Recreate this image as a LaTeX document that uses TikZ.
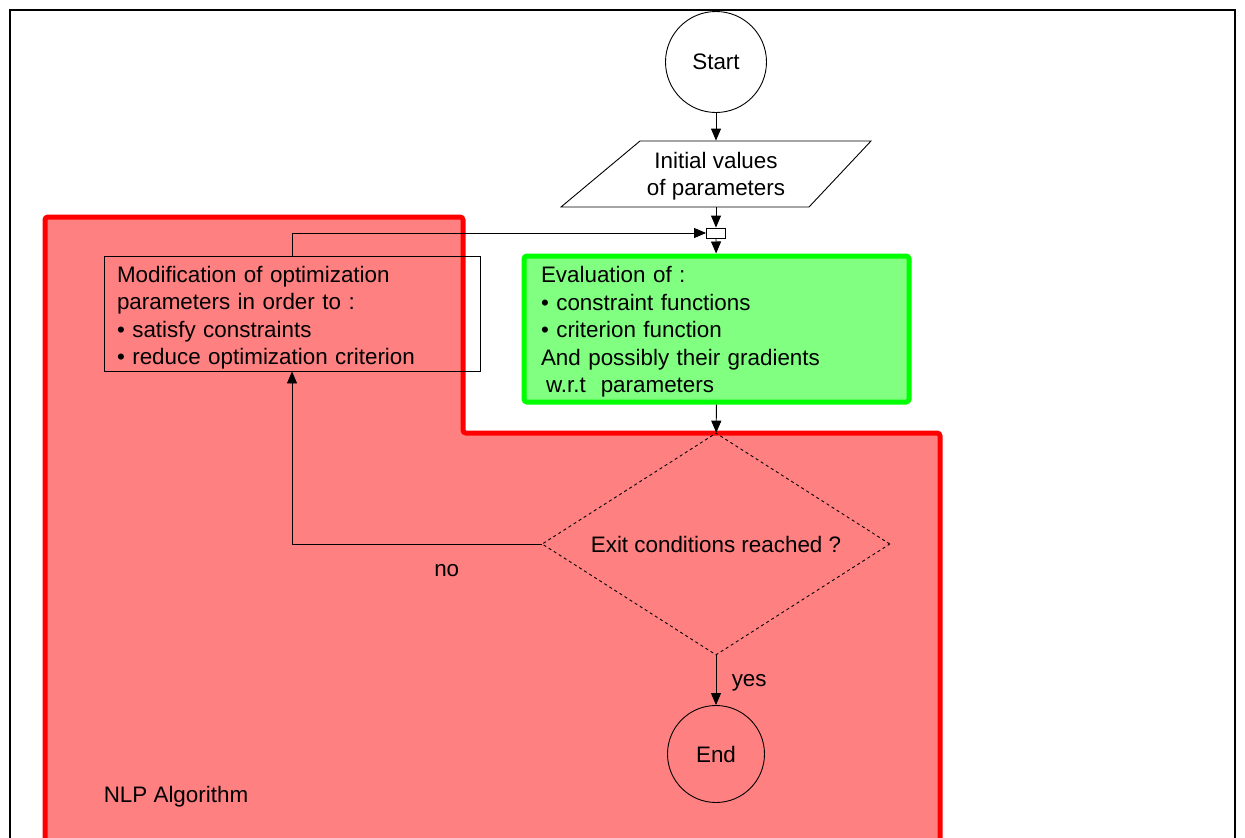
\documentclass[tikz,border=0pt]{standalone}
\usepackage{fontspec}
\setmainfont{Liberation Sans}
\usetikzlibrary{arrows.meta,shapes.geometric}

\begin{document}
\begin{tikzpicture}[x=1pt,y=-1pt,line width=0.9pt,font=\fontsize{22.4}{27.5}\selectfont,
  arr/.style={-{Triangle[length=12pt,width=10pt]}},
  term/.style={draw,circle,inner sep=0pt}]
\useasboundingbox (0,0) rectangle (1245,838);
\clip (0,0) rectangle (1245,838);

% Frame
\draw[line width=2pt] (10,10) rectangle (1235,870);

% NLP region
\draw[line width=5pt,red,fill=red!50,rounded corners=3pt] (45,217) -- (463,217) -- (463,433) -- (940,433) -- (940,880) -- (45,880) -- cycle;
\node (nlp) at (176,797) {NLP Algorithm};

% Terminals
\node[term,minimum size=101pt] (start) at (716,62) {Start};
\node[term,minimum size=97pt] (end) at (716,754) {End};

% Input
\node[minimum width=150pt,minimum height=66pt,inner ysep=0pt,align=center] (init) at (716,174)
  {\rule{0pt}{21pt}Initial values\\of parameters};
\draw (640,141) -- (871,141) -- (809,207) -- (561,207) -- cycle;

% Junction
\node[draw,fill=white,minimum width=19pt,minimum height=10pt,inner sep=0pt] (junc) at (716,233) {};

% Evaluation
\node[draw=green,line width=5pt,fill=green!50,rounded corners=3pt,minimum width=385pt,minimum height=146pt,
  text width=351pt,inner xsep=17pt,inner ysep=0pt,align=left] (eval) at (716.5,329)
  {\rule{0pt}{22pt}Evaluation of :\\\textbullet\ constraint functions\\\textbullet\ criterion function\\And possibly their gradients\\\hspace*{5pt}w.r.t\ \ parameters};

% Modification
\node[draw,minimum width=376pt,minimum height=115pt,text width=350pt,inner xsep=13pt,inner ysep=0pt,align=left] (modif) at (292,313.5)
  {\rule{0pt}{25pt}Modification of optimization\\parameters in order to :\\\textbullet\ satisfy constraints\\\textbullet\ reduce optimization criterion};

% Decision
\node[draw,dashed,diamond,aspect=1.57,minimum width=348pt,minimum height=222pt,inner sep=0pt] (exit) at (716,544) {Exit conditions reached ?};

% Connectors
\draw[arr] (start) -- (init);
\draw[arr] (init) -- (junc);
\draw[arr] (junc) -- (eval);
\draw[arr] (modif.north) |- (junc);
\draw[arr] (eval) -- (exit);
\draw[arr] (exit) -| (modif) node[pos=0.19,below=17pt] {no};
\draw[arr] (exit.south) -- (end.north) node[midway,right=12pt,yshift=-3pt] {yes};
\end{tikzpicture}
\end{document}
